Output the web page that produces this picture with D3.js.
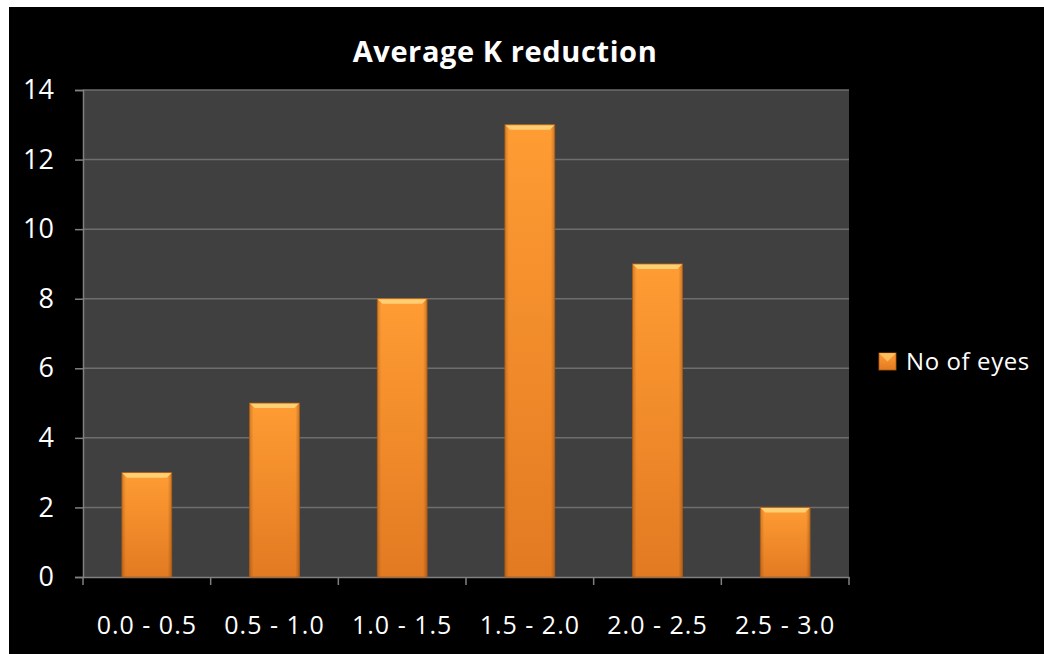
<!DOCTYPE html>
<html>
<head>
<meta charset="utf-8">
<script src="https://cdn.jsdelivr.net/npm/d3@7"></script>
<style>
  html, body { margin: 0; padding: 0; background: #fff; }
  svg { display: block; }
</style>
</head>
<body>
<svg id="chart" width="1044" height="654"></svg>
<script>
const categories = ["0.0 - 0.5", "0.5 - 1.0", "1.0 - 1.5", "1.5 - 2.0", "2.0 - 2.5", "2.5 - 3.0"];
const noOfEyes = [3, 5, 8, 13, 9, 2];
const yTicks = [0, 2, 4, 6, 8, 10, 12, 14];
const seriesName = "No of eyes";
const chartTitle = "Average K reduction";

const svg = d3.select("#chart");
const W = 1044, H = 654;
const font = "'Open Sans', 'Noto Sans', sans-serif";

// black chart frame inside a thin white margin
svg.append("rect").attr("x", 9).attr("y", 7).attr("width", W - 9).attr("height", H - 7).attr("fill", "#000");

const plot = { left: 83, right: 849, top: 90, bottom: 577 };

const x = d3.scaleBand().domain(categories).range([plot.left, plot.right]).paddingInner(0.61).paddingOuter(0.305);
const y = d3.scaleLinear().domain([0, 14]).range([plot.bottom, plot.top]);

const defs = svg.append("defs");
const grad = defs.append("linearGradient").attr("id", "barFill").attr("x1", 0).attr("y1", 0).attr("x2", 0).attr("y2", 1);
grad.append("stop").attr("offset", "0%").attr("stop-color", "#ff9c33");
grad.append("stop").attr("offset", "100%").attr("stop-color", "#e27a22");
const side = defs.append("linearGradient").attr("id", "sideShade").attr("x1", 0).attr("y1", 0).attr("x2", 1).attr("y2", 0);
side.append("stop").attr("offset", "0%").attr("stop-color", "#000").attr("stop-opacity", 0.18);
side.append("stop").attr("offset", "8%").attr("stop-color", "#000").attr("stop-opacity", 0);
side.append("stop").attr("offset", "92%").attr("stop-color", "#000").attr("stop-opacity", 0);
side.append("stop").attr("offset", "100%").attr("stop-color", "#000").attr("stop-opacity", 0.22);

// plot background
svg.append("rect").attr("x", plot.left).attr("y", plot.top)
  .attr("width", plot.right - plot.left).attr("height", plot.bottom - plot.top)
  .attr("fill", "#404040");

// horizontal gridlines
svg.append("g").selectAll("line").data(yTicks.filter(d => d > 0)).join("line")
  .attr("x1", plot.left).attr("x2", plot.right)
  .attr("y1", d => y(d)).attr("y2", d => y(d))
  .attr("stroke", "#6e6e6e").attr("stroke-width", 1.5);

// y axis
const yAxis = svg.append("g").attr("transform", `translate(${plot.left},0)`)
  .call(d3.axisLeft(y).tickValues(yTicks).tickSize(8).tickPadding(21).tickFormat(d3.format("d")));
yAxis.select(".domain").attr("stroke", "#808080").attr("stroke-width", 1.5);
yAxis.selectAll(".tick line").attr("stroke", "#808080").attr("stroke-width", 1.5);
yAxis.selectAll("text").attr("fill", "#fff").attr("font-family", font).attr("font-size", 27);

// x axis with ticks at category boundaries
const xAxis = svg.append("g").attr("transform", `translate(0,${plot.bottom})`)
  .call(d3.axisBottom(x).tickSize(0).tickPadding(39));
xAxis.select(".domain").attr("stroke", "#808080").attr("stroke-width", 1.5);
xAxis.selectAll("text").attr("fill", "#fff").attr("font-family", font).attr("font-size", 25).attr("letter-spacing", 1);
const step = x.step();
svg.append("g").selectAll("line").data(d3.range(categories.length + 1)).join("line")
  .attr("x1", i => plot.left + i * step).attr("x2", i => plot.left + i * step)
  .attr("y1", plot.bottom).attr("y2", plot.bottom + 8)
  .attr("stroke", "#808080").attr("stroke-width", 1.5);

// bars with bevelled look
const bars = svg.append("g").selectAll("g").data(noOfEyes).join("g")
  .attr("transform", (d, i) => `translate(${x(categories[i])},${y(d)})`);
const bw = x.bandwidth();
bars.append("rect").attr("width", bw).attr("height", d => y(0) - y(d)).attr("fill", "url(#barFill)");
bars.append("rect").attr("width", bw).attr("height", d => y(0) - y(d)).attr("fill", "url(#sideShade)");
bars.append("path").attr("d", `M0,0 L${bw},0 L${bw - 5},5 L5,5 Z`).attr("fill", "#ffcf73");
bars.append("rect").attr("width", bw).attr("height", d => y(0) - y(d))
  .attr("fill", "none").attr("stroke", "#b35a10").attr("stroke-width", 0.8);

// title
svg.append("text").attr("x", 505).attr("y", 62).attr("text-anchor", "middle")
  .attr("fill", "#fff").attr("font-family", font).attr("font-weight", "bold")
  .attr("font-size", 29).attr("letter-spacing", 0.6).text(chartTitle);

// legend
const lg = svg.append("g").attr("transform", "translate(879,353)");
lg.append("rect").attr("width", 17).attr("height", 17).attr("fill", "url(#barFill)").attr("stroke", "#b35a10").attr("stroke-width", 0.8);
lg.append("path").attr("d", "M0,0 L17,0 L8.5,8.5 Z").attr("fill", "#ffcf73").attr("opacity", 0.7);
lg.append("text").attr("x", 27).attr("y", 8.5).attr("dy", "0.35em")
  .attr("fill", "#fff").attr("font-family", font).attr("font-size", 24).attr("letter-spacing", 0.6).text(seriesName);
</script>
</body>
</html>
